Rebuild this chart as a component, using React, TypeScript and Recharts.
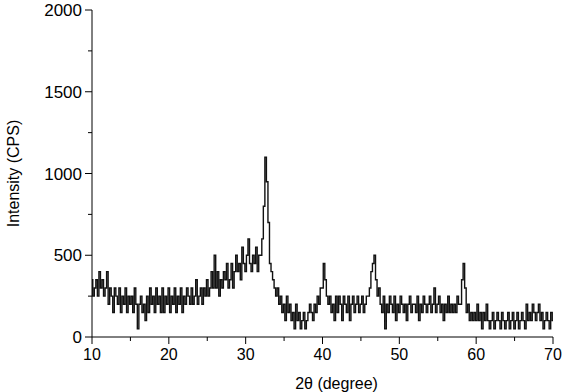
import React from "react";
import { LineChart, Line, XAxis, YAxis, Label } from "recharts";

// XRD scan grid (2θ, degree)
const twoThetaStart = 10;
const twoThetaStep = 0.2;

// Intensity (CPS), five readings per degree from 10° to 70°
const intensity: number[] = [
  350, 250, 300, 350, 250, // 10
  400, 300, 350, 250, 300, // 11
  400, 200, 300, 250, 150, // 12
  300, 250, 200, 300, 150, // 13
  250, 200, 300, 150, 250, // 14
  200, 250, 150, 300, 200, // 15
  50, 200, 250, 150, 200, // 16
  100, 250, 150, 300, 200, // 17
  250, 150, 300, 200, 250, // 18
  150, 300, 150, 250, 200, // 19
  300, 150, 250, 200, 300, // 20
  150, 250, 200, 300, 150, // 21
  250, 200, 300, 250, 200, // 22
  300, 200, 250, 350, 200, // 23
  250, 300, 200, 300, 250, // 24
  350, 250, 300, 400, 300, // 25
  500, 300, 400, 250, 350, // 26
  300, 400, 350, 450, 300, // 27
  350, 450, 300, 400, 500, // 28
  400, 450, 350, 550, 450, // 29
  400, 500, 600, 450, 400, // 30
  500, 450, 550, 400, 500, // 31
  500, 600, 800, 1100, 950, // 32
  700, 450, 400, 350, 300, // 33
  250, 300, 200, 250, 150, // 34
  200, 100, 250, 150, 200, // 35
  100, 150, 50, 200, 100, // 36
  150, 50, 100, 150, 50, // 37
  100, 150, 200, 150, 100, // 38
  200, 150, 250, 200, 300, // 39
  300, 450, 350, 250, 200, // 40
  250, 150, 200, 100, 250, // 41
  150, 250, 200, 100, 250, // 42
  200, 150, 250, 100, 200, // 43
  250, 150, 200, 250, 150, // 44
  200, 250, 150, 200, 250, // 45
  250, 300, 400, 450, 500, // 46
  350, 250, 300, 200, 150, // 47
  250, 50, 200, 150, 250, // 48
  200, 150, 250, 100, 200, // 49
  150, 250, 200, 150, 200, // 50
  100, 200, 250, 150, 200, // 51
  200, 150, 250, 100, 200, // 52
  150, 250, 200, 150, 200, // 53
  250, 150, 200, 300, 150, // 54
  200, 250, 150, 200, 100, // 55
  200, 150, 250, 150, 200, // 56
  150, 200, 150, 250, 200, // 57
  200, 350, 450, 300, 150, // 58
  200, 100, 150, 100, 150, // 59
  100, 200, 100, 150, 50, // 60
  150, 100, 200, 100, 50, // 61
  100, 150, 50, 100, 150, // 62
  100, 50, 150, 100, 50, // 63
  100, 150, 50, 100, 150, // 64
  50, 100, 150, 50, 100, // 65
  150, 100, 50, 200, 100, // 66
  150, 100, 200, 150, 100, // 67
  150, 200, 100, 150, 50, // 68
  100, 150, 100, 50, 150, // 69
  100, // 70
];

// major ticks are labelled, minor ticks are not
const xTicks = [10, 15, 20, 25, 30, 35, 40, 45, 50, 55, 60, 65, 70];
const xLabelledTicks = [10, 20, 30, 40, 50, 60, 70];
const yTicks = [0, 250, 500, 750, 1000, 1250, 1500, 1750, 2000];
const yLabelledTicks = [0, 500, 1000, 1500, 2000];

const data = intensity.map((v, i) => ({
  theta: Math.round((twoThetaStart + i * twoThetaStep) * 10) / 10,
  cps: v,
}));

const font = "'Liberation Sans', Arial, sans-serif";

const XTick = (props: any) => {
  const { x, y, payload } = props;
  const major = xLabelledTicks.includes(payload.value);
  return (
    <g>
      <line x1={x} x2={x} y1={y} y2={y + (major ? 7 : 4)} stroke="#000" strokeWidth={1} />
      {major && (
        <text x={x} y={y + 23} textAnchor="middle" fontSize={16} fontFamily={font} fill="#000">
          {payload.value}
        </text>
      )}
    </g>
  );
};

const YTick = (props: any) => {
  const { x, y, payload } = props;
  const major = yLabelledTicks.includes(payload.value);
  return (
    <g>
      <line x1={x - (major ? 7 : 4)} x2={x} y1={y} y2={y} stroke="#000" strokeWidth={1} />
      {major && (
        <text x={x - 10} y={y + 6} textAnchor="end" fontSize={17} fontFamily={font} fill="#000">
          {payload.value}
        </text>
      )}
    </g>
  );
};

export default function App() {
  return (
    <div style={{ position: "absolute", left: 0, top: 0, background: "#fff" }}>
      <LineChart
        width={565}
        height={392}
        data={data}
        margin={{ top: 10, right: 12, bottom: 7, left: 0 }}
      >
        <XAxis
          dataKey="theta"
          type="number"
          domain={[10, 70]}
          ticks={xTicks}
          interval={0}
          height={48}
          tickSize={0}
          tickMargin={0}
          tickLine={false}
          tick={<XTick />}
          axisLine={{ stroke: "#000" }}
          allowDataOverflow
        >
          <Label
            value="2θ (degree)"
            position="insideBottom"
            offset={-4}
            dx={14}
            style={{ fontSize: 16, fill: "#000", fontFamily: font }}
          />
        </XAxis>
        <YAxis
          type="number"
          domain={[0, 2000]}
          ticks={yTicks}
          interval={0}
          width={92}
          tickSize={0}
          tickMargin={0}
          tickLine={false}
          tick={<YTick />}
          axisLine={{ stroke: "#000" }}
          allowDataOverflow
        >
          <Label
            value="Intensity (CPS)"
            angle={-90}
            position="insideLeft"
            offset={13}
            style={{ fontSize: 16, fill: "#000", fontFamily: font, textAnchor: "middle" }}
          />
        </YAxis>
        <Line
          dataKey="cps"
          type="step"
          stroke="#111"
          strokeWidth={1.4}
          dot={false}
          isAnimationActive={false}
        />
      </LineChart>
    </div>
  );
}
